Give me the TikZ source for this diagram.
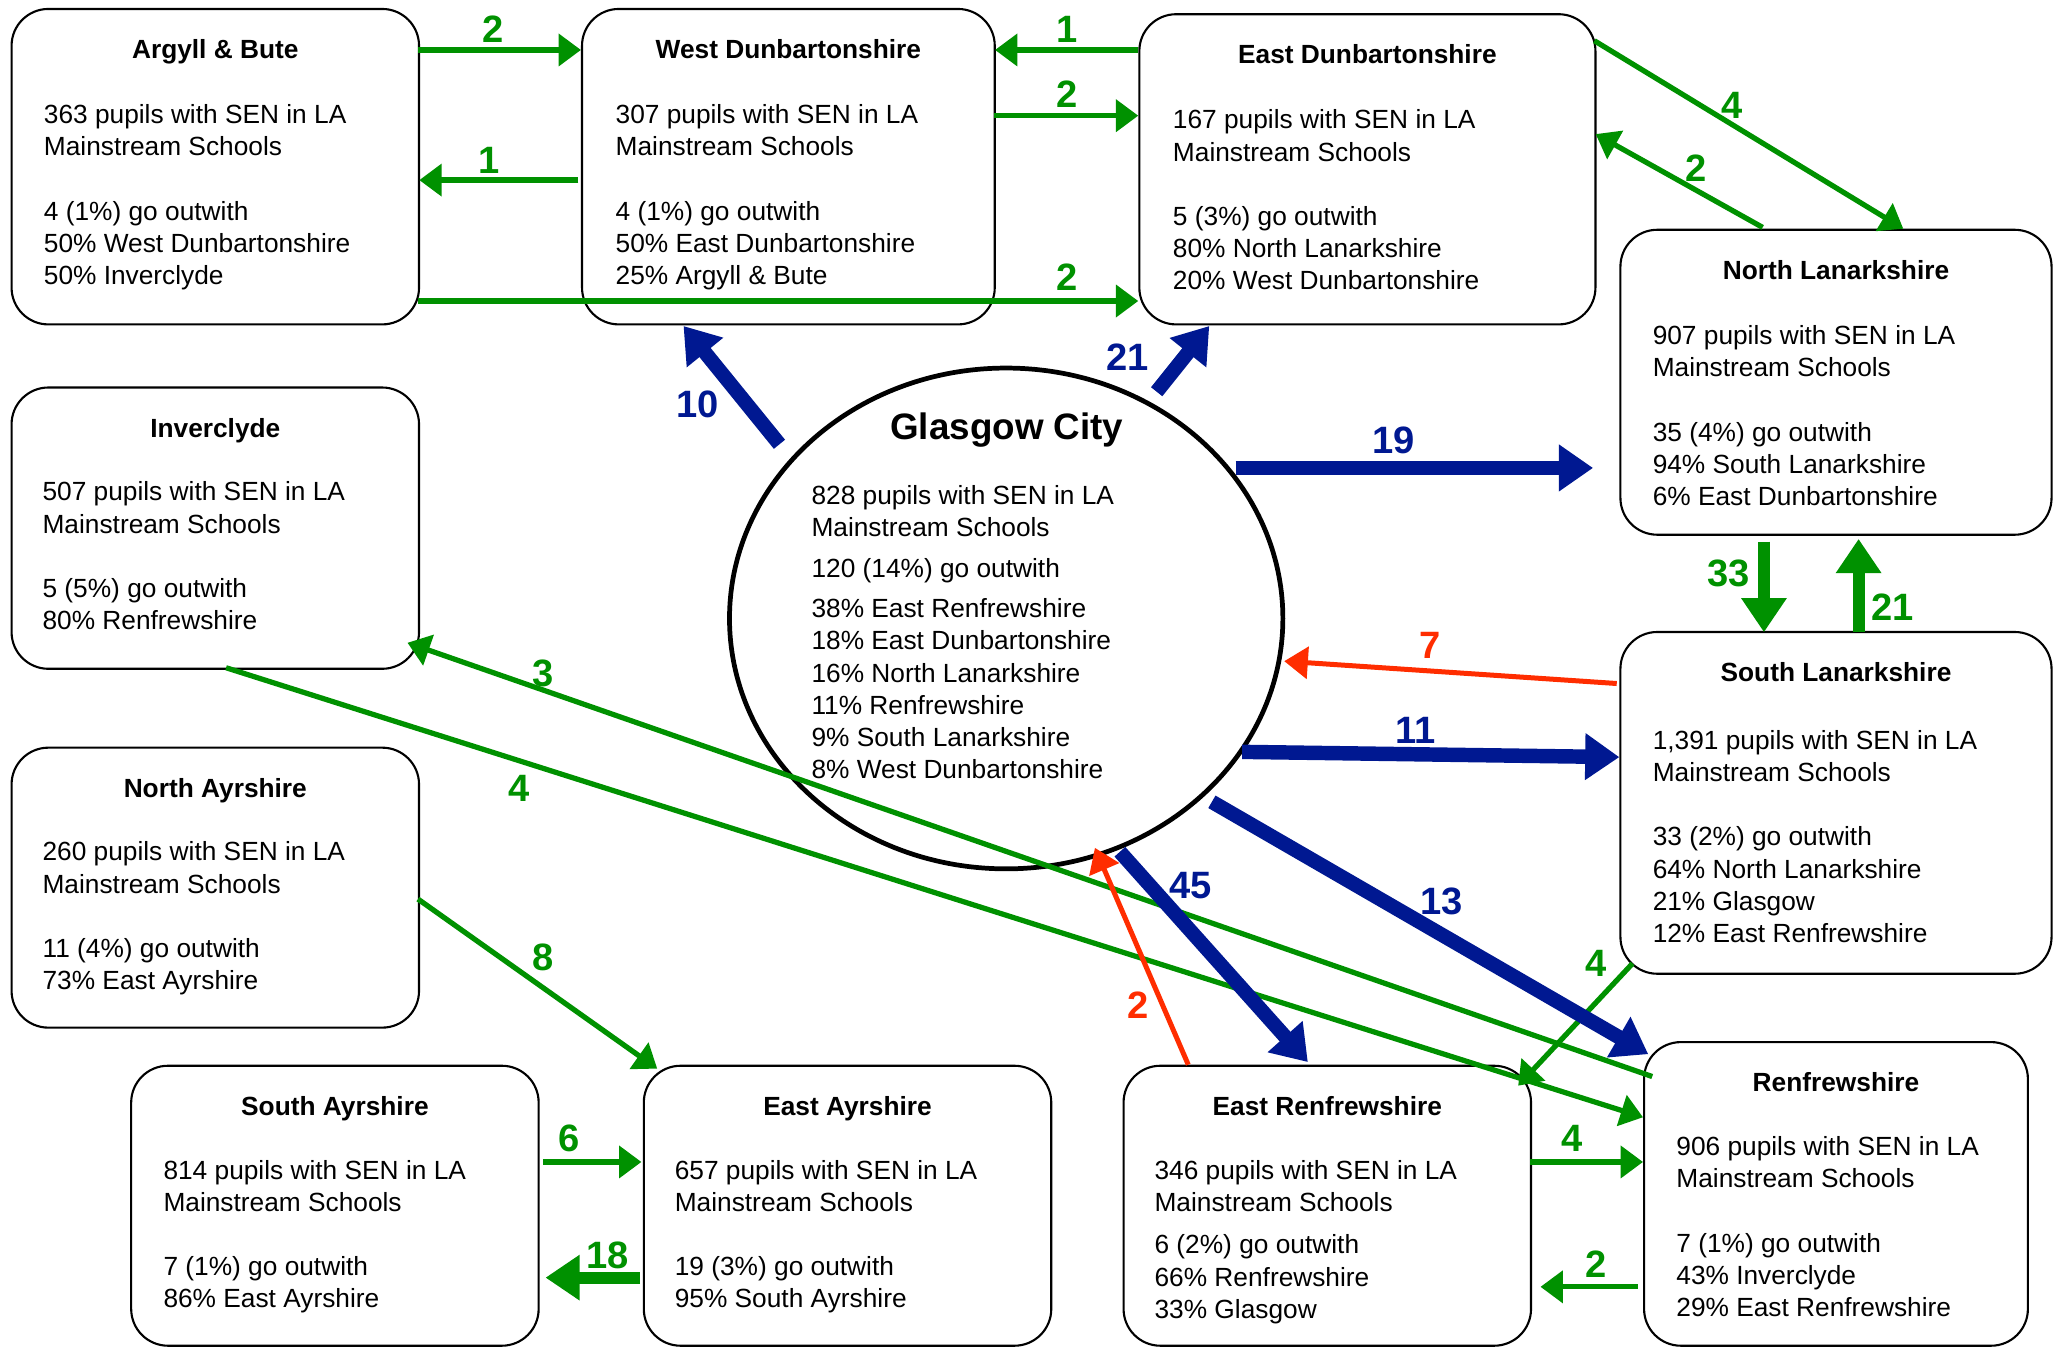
\documentclass[tikz,border=0pt]{standalone}
\usepackage{fontspec}
\setmainfont{Liberation Sans}
\usetikzlibrary{arrows.meta,calc,shapes.geometric}
\definecolor{G}{RGB}{0,145,0}
\definecolor{B}{RGB}{0,24,145}
\definecolor{R}{RGB}{255,45,0}
\newcommand\txl[1]{\hbox{#1}}
\newcommand\bodyv[1]{\vtop{\baselineskip=12.25pt\lineskiplimit=0pt #1}}
\newcommand\regionbox[6]{%
  \node[regbox,minimum width={#4*0.5pt},minimum height={#5*0.5pt}] (#1) at (#2,#3) {};
  \node[ttl] (#1t) at ($(#1.north)+(0,38.5)$) {#6};}
\begin{document}
\begin{tikzpicture}[x=0.5pt,y=-0.5pt,
 regbox/.style={draw,line width=0.8pt,rounded corners=14pt,anchor=north west,inner sep=0pt},
 ttl/.style={anchor=base,inner sep=0pt,font=\fontsize{10}{12}\selectfont\bfseries},
 bodytxt/.style={anchor=base west,inner sep=0pt,font=\fontsize{10}{12}\selectfont},
 lab/.style={inner sep=0pt,font=\fontsize{14.5}{16}\selectfont\bfseries},
 ga/.style={draw=G,line width=2pt,-{Triangle[length=8.5pt,width=12pt]}},
 gt/.style={draw=G,line width=4.5pt,-{Triangle[length=13pt,width=16.5pt]}},
 ba/.style={draw=B,line width=5.5pt,-{Triangle[length=13pt,width=17pt]}},
 ra/.style={draw=R,line width=1.9pt,-{Triangle[length=9pt,width=12pt]}},
]
\useasboundingbox (0,0) rectangle (1568,1025);

% ---- boxes ----
\regionbox{ab}{8}{6}{310}{240}{Argyll \& Bute}
\node[bodytxt] (abb) at ($(ab.north west)+(25,88)$) {\bodyv{\txl{363 pupils with SEN in LA}\txl{Mainstream Schools}\txl{}\txl{4 (1\%) go outwith}\txl{50\% West Dunbartonshire}\txl{50\% Inverclyde}}};

\regionbox{wd}{442}{6}{314}{240}{West Dunbartonshire}
\node[bodytxt] (wdb) at ($(wd.north west)+(26,88)$) {\bodyv{\txl{307 pupils with SEN in LA}\txl{Mainstream Schools}\txl{}\txl{4 (1\%) go outwith}\txl{50\% East Dunbartonshire}\txl{25\% Argyll \& Bute}}};

\regionbox{ed}{866}{10}{347}{236}{East Dunbartonshire}
\node[bodytxt] (edb) at ($(ed.north west)+(26,88)$) {\bodyv{\txl{167 pupils with SEN in LA}\txl{Mainstream Schools}\txl{}\txl{5 (3\%) go outwith}\txl{80\% North Lanarkshire}\txl{20\% West Dunbartonshire}}};

\regionbox{nl}{1232}{174}{328}{232}{North Lanarkshire}
\node[bodytxt] (nlb) at ($(nl.north west)+(25,88)$) {\bodyv{\txl{907 pupils with SEN in LA}\txl{Mainstream Schools}\txl{}\txl{35 (4\%) go outwith}\txl{94\% South Lanarkshire}\txl{6\% East Dunbartonshire}}};

\regionbox{ic}{8}{294}{310}{214}{Inverclyde}
\node[bodytxt] (icb) at ($(ic.north west)+(24,87)$) {\bodyv{\txl{507 pupils with SEN in LA}\txl{Mainstream Schools}\txl{}\txl{5 (5\%) go outwith}\txl{80\% Renfrewshire}}};

\regionbox{na}{8}{568}{310}{213}{North Ayrshire}
\node[bodytxt] (nab) at ($(na.north west)+(24,87)$) {\bodyv{\txl{260 pupils with SEN in LA}\txl{Mainstream Schools}\txl{}\txl{11 (4\%) go outwith}\txl{73\% East Ayrshire}}};

\regionbox{sa}{99}{810}{310}{213}{South Ayrshire}
\node[bodytxt] (sab) at ($(sa.north west)+(25,87)$) {\bodyv{\txl{814 pupils with SEN in LA}\txl{Mainstream Schools}\txl{}\txl{7 (1\%) go outwith}\txl{86\% East Ayrshire}}};

\regionbox{ea}{489}{810}{310}{213}{East Ayrshire}
\node[bodytxt] (eab) at ($(ea.north west)+(24,87)$) {\bodyv{\txl{657 pupils with SEN in LA}\txl{Mainstream Schools}\txl{}\txl{19 (3\%) go outwith}\txl{95\% South Ayrshire}}};

\regionbox{er}{854}{810}{310}{213}{East Renfrewshire}
\node[bodytxt] (erb) at ($(er.north west)+(24,87)$) {\bodyv{\txl{346 pupils with SEN in LA}\txl{Mainstream Schools}\vskip4pt\txl{6 (2\%) go outwith}\txl{66\% Renfrewshire}\txl{33\% Glasgow}}};

\regionbox{rf}{1250}{792}{292}{231}{Renfrewshire}
\node[bodytxt] (rfb) at ($(rf.north west)+(25,87)$) {\bodyv{\txl{906 pupils with SEN in LA}\txl{Mainstream Schools}\txl{}\txl{7 (1\%) go outwith}\txl{43\% Inverclyde}\txl{29\% East Renfrewshire}}};

\regionbox{sl}{1232}{480}{328}{260}{South Lanarkshire}
\node[bodytxt] (slb) at ($(sl.north west)+(25,90)$) {\bodyv{\txl{1,391 pupils with SEN in LA}\txl{Mainstream Schools}\txl{}\txl{33 (2\%) go outwith}\txl{64\% North Lanarkshire}\txl{21\% Glasgow}\txl{12\% East Renfrewshire}}};

% ---- Glasgow City ----
\node[draw,ellipse,line width=1.8pt,inner sep=0pt,minimum width={421*0.5pt},minimum height={381*0.5pt}] (gc) at (765.5,470.5) {};
\node[anchor=base,inner sep=0pt,font=\fontsize{14}{16}\selectfont\bfseries] (gct) at ($(gc)+(0.5,-136)$) {Glasgow City};
\node[bodytxt] (gcb) at ($(gc)+(-148.5,-87)$) {\bodyv{\txl{828 pupils with SEN in LA}\txl{Mainstream Schools}\vskip3.5pt\txl{120 (14\%) go outwith}\vskip3pt\txl{38\% East Renfrewshire}\txl{18\% East Dunbartonshire}\txl{16\% North Lanarkshire}\txl{11\% Renfrewshire}\txl{9\% South Lanarkshire}\txl{8\% West Dunbartonshire}}};

% ---- green arrows ----
\draw[ga] ($(ab.north west)+(310,32)$) -- ($(wd.north west)+(0,32)$);
\draw[ga] ($(ed.north west)+(0,28)$) -- ($(wd.north west)+(315,32)$);
\draw[ga] ($(wd.north west)+(314,82)$) -- ($(ed.north west)+(0,78)$);
\draw[ga] ($(wd.north west)+(-2,131)$) -- ($(ab.north west)+(311,131)$);
\draw[ga] ($(ab.north west)+(310,223)$) -- ($(ed.north west)+(0,219)$);
\draw[ga] ($(ed.north west)+(347,21)$) -- ($(nl.north west)+(216,0)$);
\draw[ga] ($(nl.north west)+(109,-1)$) -- ($(ed.north west)+(348,92)$);
\draw[gt] ($(nl.north west)+(110,238)$) -- ($(sl.north west)+(110,1)$);
\draw[gt] ($(sl.north west)+(182,1)$) -- ($(nl.north west)+(182,236)$);
\draw[ga] ($(ic.north west)+(164,214)$) -- ($(rf.north west)+(0,58)$);
\draw[ga] ($(rf.north west)+(7,27)$) -- ($(ic.north west)+(302,195)$);
\draw[ga] ($(na.north west)+(310,116)$) -- ($(ea.north west)+(11,3)$);
\draw[ga] ($(sa.north west)+(314,74)$) -- ($(ea.north west)+(-1,74)$);
\draw[gt] ($(ea.north west)+(-2,162)$) -- ($(sa.north west)+(316,162)$);
\draw[ga] ($(sl.north west)+(10,253)$) -- ($(er.north west)+(301,16)$);
\draw[ga] ($(er.north west)+(310,74)$) -- ($(rf.north west)+(0,92)$);
\draw[ga] ($(rf.north west)+(-4,187)$) -- ($(er.north west)+(318,169)$);

% ---- blue arrows ----
\draw[ba] ($(gc)+(-172.5,-132.5)$) -- ($(wd.north west)+(78,242)$);
\draw[ba] ($(gc)+(114.5,-172.5)$) -- ($(ed.north west)+(54,238)$);
\draw[ba] ($(gc)+(174.5,-114.5)$) -- ($(nl.north west)+(-20,182)$);
\draw[ba] ($(gc)+(179.5,101.5)$) -- ($(sl.north west)+(0,96)$);
\draw[ba] ($(gc)+(156.5,139.5)$) -- ($(rf.north west)+(4,10)$);
\draw[ba] ($(gc)+(86.5,177.5)$) -- ($(er.north west)+(141,-2)$);

% ---- red arrows ----
\draw[ra] ($(sl.north west)+(-2,40)$) -- ($(gc)+(211.5,32.5)$);
\draw[ra] ($(er.north west)+(50,0)$) -- ($(gc)+(67.5,174.5)$);

% ---- labels ----
\node[lab,text=G] (l1) at (375,22) {2};
\node[lab,text=G] (l2) at (812,22) {1};
\node[lab,text=G] (l3) at (812,72) {2};
\node[lab,text=G] (l4) at (372,122) {1};
\node[lab,text=G] (l5) at (812,211) {2};
\node[lab,text=G] (l6) at (1318,80) {4};
\node[lab,text=G] (l7) at (1290,128) {2};
\node[lab,text=G] (l8) at (1315,436) {33};
\node[lab,text=G] (l9) at (1440,462) {21};
\node[lab,text=G] (l10) at (395,600) {4};
\node[lab,text=G] (l11) at (413,512) {3};
\node[lab,text=G] (l12) at (413,728) {8};
\node[lab,text=G] (l13) at (433,866) {6};
\node[lab,text=G] (l14) at (462,955) {18};
\node[lab,text=G] (l15) at (1214,733) {4};
\node[lab,text=G] (l16) at (1196,866) {4};
\node[lab,text=G] (l17) at (1214,962) {2};
\node[lab,text=B] (l18) at (531,308) {10};
\node[lab,text=B] (l19) at (858,272) {21};
\node[lab,text=B] (l20) at (1060,335) {19};
\node[lab,text=B] (l21) at (1077,556) {11};
\node[lab,text=B] (l22) at (1097,686) {13};
\node[lab,text=B] (l23) at (906,674) {45};
\node[lab,text=R] (l24) at (1088,491) {7};
\node[lab,text=R] (l25) at (866,765) {2};
\end{tikzpicture}
\end{document}
